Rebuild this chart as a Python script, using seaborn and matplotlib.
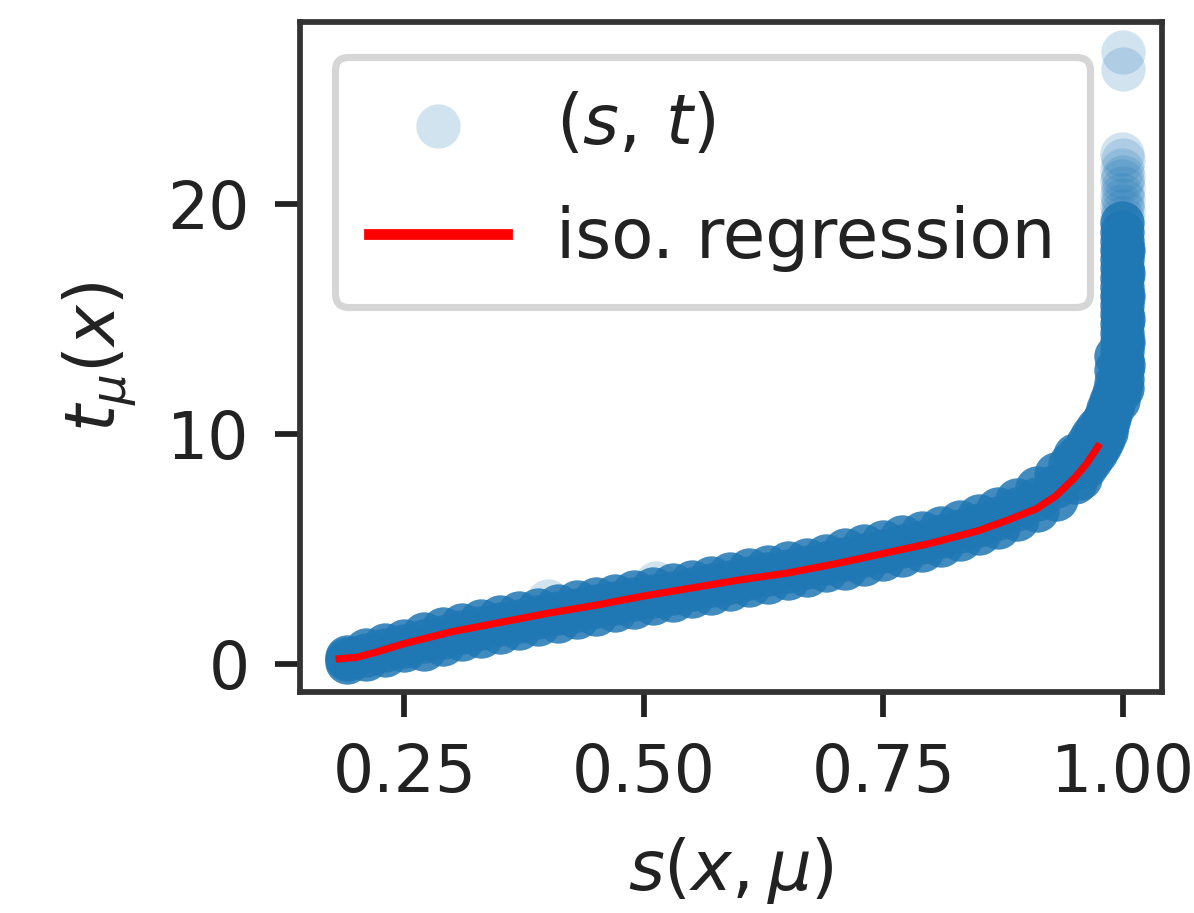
import matplotlib
matplotlib.use("Agg")
import matplotlib.pyplot as plt
import pandas as pd
import seaborn as sns

# ---- main band of the (s, t) point cloud: columns of s with lower / middle / upper t
band_s = [0.19, 0.21, 0.23, 0.25, 0.27, 0.29, 0.31, 0.33, 0.35, 0.37, 0.39, 0.41, 0.43,
          0.45, 0.47, 0.49, 0.51, 0.53, 0.55, 0.57, 0.59, 0.61, 0.63, 0.65, 0.67, 0.69,
          0.71, 0.73, 0.75, 0.77, 0.79, 0.81, 0.83, 0.85, 0.87, 0.89, 0.91, 0.93, 0.95]
band_t_lo = [0.1, 0.2, 0.4, 0.58, 0.66, 0.86, 1.06, 1.23, 1.4, 1.56, 1.72, 1.88, 2.03,
             2.18, 2.33, 2.48, 2.63, 2.78, 2.93, 3.1, 3.26, 3.42, 3.58, 3.73, 3.88, 4.06,
             4.18, 4.36, 4.54, 4.74, 4.94, 5.17, 5.42, 5.67, 5.97, 6.3, 6.7, 7.17, 7.9]
band_t_mid = [0.2, 0.4, 0.6, 0.78, 0.98, 1.18, 1.38, 1.55, 1.72, 1.88, 2.04, 2.2, 2.35,
              2.5, 2.65, 2.8, 2.95, 3.1, 3.25, 3.42, 3.58, 3.74, 3.9, 4.05, 4.2, 4.38,
              4.56, 4.74, 4.92, 5.12, 5.32, 5.55, 5.8, 6.05, 6.35, 6.72, 7.18, 7.72, 8.5]
band_t_hi = [0.3, 0.6, 0.8, 0.98, 1.3, 1.5, 1.7, 1.87, 2.04, 2.2, 2.36, 2.52, 2.67,
             2.82, 2.97, 3.12, 3.27, 3.42, 3.57, 3.74, 3.9, 4.06, 4.22, 4.37, 4.52, 4.7,
             4.94, 5.12, 5.3, 5.5, 5.7, 5.93, 6.18, 6.43, 6.73, 7.14, 7.66, 8.27, 9.1]

# ---- bend and vertical tail near s = 1
tail_s = [0.945, 0.952, 0.959, 0.964, 0.968, 0.973, 0.978, 0.982, 0.985, 0.988, 0.9905,
          0.955, 0.96, 0.965, 0.97, 0.975, 0.979, 0.982, 0.985, 0.988, 0.991,
          0.955, 0.962, 0.967, 0.972, 0.976, 0.979, 0.982, 0.984, 0.986, 0.988, 0.99, 0.992,
          0.995, 0.997, 0.993, 0.993, 0.993,
          0.999, 0.999, 0.999, 0.999, 0.999, 0.999, 0.999, 0.999, 0.999, 0.999,
          0.999, 0.999, 0.999, 0.999, 0.999, 0.999, 0.999, 0.999, 0.999,
          1.0, 1.0, 1.0, 1.0, 1.0, 1.0]
tail_t = [8.7, 9.0, 9.26, 9.6, 9.9, 10.2, 10.48, 10.8, 11.1, 11.45, 11.8,
          8.6, 8.9, 9.2, 9.5, 9.85, 10.2, 10.5, 10.85, 11.2, 11.6,
          8.1, 8.6, 8.9, 9.2, 9.5, 9.8, 10.1, 10.4, 10.7, 11.0, 11.3, 11.6,
          11.5, 12.0, 12.2, 12.8, 13.4,
          12.0, 12.4, 12.8, 13.2, 13.6, 14.0, 14.4, 14.8, 15.2, 15.6,
          16.0, 16.4, 16.8, 17.2, 17.6, 18.0, 18.4, 18.8, 19.2,
          13.0, 14.0, 15.0, 16.0, 17.0, 18.0]

# ---- sparse (faint) points
sparse_s = [0.40, 0.513, 0.999, 1.0, 0.999, 1.0, 0.999, 1.0, 0.999, 1.0, 0.999, 1.0,
            0.999, 1.0, 1.0]
sparse_t = [2.75, 3.5, 19.4, 19.7, 19.9, 20.2, 20.4, 20.7, 21.0, 21.2, 21.5, 21.9,
            22.2, 25.9, 26.6]

# ---- isotonic regression curve
iso_s = [0.182, 0.20, 0.22, 0.25, 0.30, 0.35, 0.40, 0.45, 0.50, 0.55, 0.60, 0.65,
         0.70, 0.75, 0.80, 0.85, 0.88, 0.91, 0.93, 0.95, 0.962, 0.974]
iso_t = [0.22, 0.28, 0.5, 0.88, 1.4, 1.8, 2.2, 2.55, 2.95, 3.3, 3.65, 3.95,
         4.35, 4.8, 5.25, 5.8, 6.25, 6.75, 7.3, 8.1, 8.7, 9.45]

DPI = 518
plt.rcParams["font.size"] = 9.0
plt.rcParams["text.color"] = "#222222"
plt.rcParams["xtick.color"] = "#222222"
plt.rcParams["ytick.color"] = "#222222"
plt.rcParams["axes.labelcolor"] = "#222222"
plt.rcParams["axes.edgecolor"] = "#333333"

fig = plt.figure(figsize=(1194 / DPI, 913 / DPI), dpi=DPI)
ax = fig.add_axes([0.2513, 0.2421, 0.9732 - 0.2513, 0.9759 - 0.2421])

dense = pd.DataFrame({
    "s": band_s + band_s + band_s + tail_s,
    "t": band_t_lo + band_t_mid + band_t_hi + tail_t,
})
sparse = pd.DataFrame({"s": sparse_s, "t": sparse_t})

sns.scatterplot(data=dense, x="s", y="t", ax=ax, color="#1f77b4", alpha=0.85,
                s=38, linewidth=0, legend=False)
sns.scatterplot(data=sparse, x="s", y="t", ax=ax, color="#1f77b4", alpha=0.2,
                s=38, linewidth=0, label="$(s,\\,t)$")
sns.lineplot(x=iso_s, y=iso_t, ax=ax, color="red", lw=1.0, sort=False,
             label="iso. regression")

ax.set_xticks([0.25, 0.5, 0.75, 1.0])
ax.set_yticks([0, 10, 20])
ax.set_xlabel("$s(x,\\mu)$", fontsize=9.6)
ax.set_ylabel("$t_\\mu(x)$", fontsize=9.6)
leg = ax.legend(loc="upper left", labelspacing=0.68, borderpad=0.5,
                handletextpad=0.7, fontsize=9.6)
leg.get_lines()[0].set_linewidth(1.5)

fig.savefig("out.png", dpi=DPI)
